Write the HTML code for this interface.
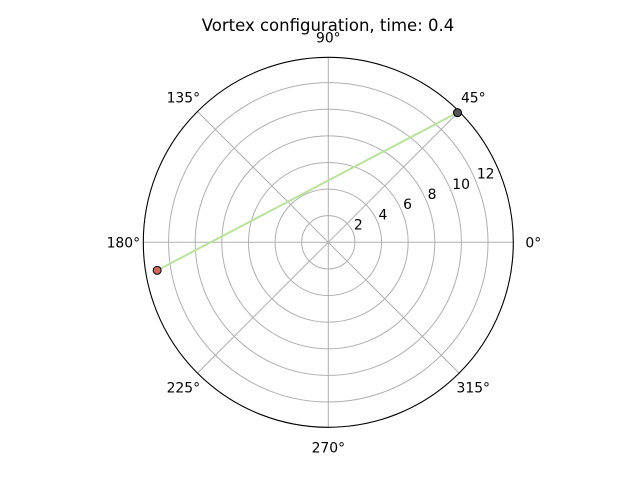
<!DOCTYPE html>
<html><head><meta charset="utf-8"><style>body{margin:0;background:#fff}svg{display:block}text{font-family:"DejaVu Sans","Liberation Sans",sans-serif;fill:#000}</style></head>
<body>
<svg id="chart" width="640" height="480">
<text x="328" y="31" text-anchor="middle" font-size="16.5">Vortex configuration, time: 0.4</text>
<g id="grid"></g><g id="marks"></g><g id="labels"></g>
</svg>
<script>
const rTicks=[2,4,6,8,10,12];
const thetaTicks=[0,45,90,135,180,225,270,315];
const vortexTheta=[45.1,189.3];
const vortexR=[13.75,13.03];
const vortexColors=['#555555','#d0695a'];
const rMax=13.9;
const cx=328.3,cy=242.3,R=185;
const NS='http://www.w3.org/2000/svg';
function sc(r){return r/rMax*R;}
function pt(th,r){const a=th*Math.PI/180;return [cx+sc(r)*Math.cos(a),cy-sc(r)*Math.sin(a)];}
function mk(tag,at,parent){const e=document.createElementNS(NS,tag);for(const k in at)e.setAttribute(k,at[k]);document.getElementById(parent).appendChild(e);return e;}
rTicks.forEach(r=>{
const c=mk('circle',{cx:cx,cy:cy,r:sc(r),fill:'none',stroke:'#b0b0b0','stroke-width':1},'grid');


const p=pt(22.5,r);
const t=mk('text',{x:p[0]+1,y:p[1]-2.5,'font-size':13.9},'labels');
t.textContent=r;


});
thetaTicks.forEach(th=>{
const p=pt(th,rMax);
const l=mk('line',{x1:cx,y1:cy,x2:p[0],y2:p[1],stroke:'#b0b0b0','stroke-width':1},'grid');


const a=th*Math.PI/180,rr=R+20;
const t=mk('text',{x:cx+rr*Math.cos(a),y:cy-rr*Math.sin(a)+5,'font-size':13.9,'text-anchor':'middle'},'labels');
t.textContent=th+'°';


});
const o=mk('circle',{cx:cx,cy:cy,r:R,fill:'none',stroke:'#000','stroke-width':1.1},'grid');


const p0=pt(vortexTheta[0],vortexR[0]),p1=pt(vortexTheta[1],vortexR[1]);
const ln=mk('line',{x1:p0[0],y1:p0[1],x2:p1[0],y2:p1[1],stroke:'#b8e39a','stroke-width':2},'marks');


vortexTheta.forEach((th,i)=>{
const p=pt(th,vortexR[i]);
const c=mk('circle',{cx:p[0],cy:p[1],r:4,fill:vortexColors[i],stroke:'#000','stroke-width':1},'marks');


});
</script>
</body></html>
